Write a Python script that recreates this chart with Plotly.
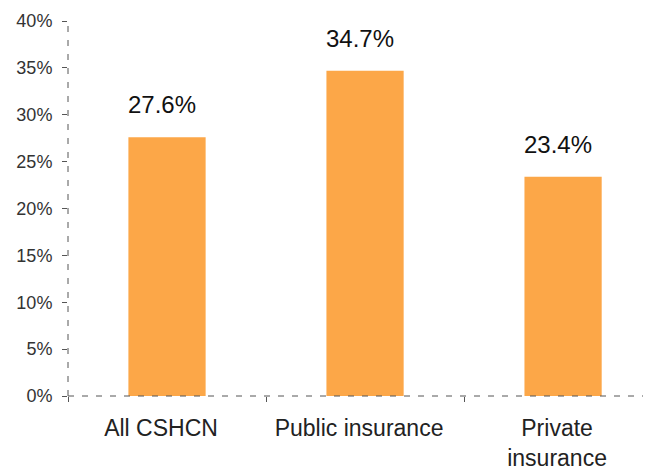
import plotly.graph_objects as go

categories = ["All CSHCN", "Public insurance", "Private<br>insurance"]
values = [27.6, 34.7, 23.4]
value_labels = ["27.6%", "34.7%", "23.4%"]
y_ticks = [0, 5, 10, 15, 20, 25, 30, 35, 40]

_BAR = "#FCA748"
_AXIS = "#555555"
_FONT = "Liberation Sans, Arial, sans-serif"

fig = go.Figure()
fig.add_trace(
    go.Bar(
        x=categories,
        y=values,
        width=0.39,
        marker=dict(color=_BAR, line=dict(width=0)),
        hoverinfo="skip",
    )
)

# value labels sit a little left of the bar centres in the original
for cat, val, txt in zip(categories, values, value_labels):
    fig.add_annotation(
        x=cat, y=val, text=txt, showarrow=False,
        yanchor="bottom", yshift=17, xshift=-5,
        font=dict(size=24, color="#111111", family=_FONT),
    )

# dashed axis lines (plotly axis lines can't be dashed)
fig.add_shape(type="line", xref="paper", yref="paper", x0=0, x1=0, y0=0, y1=1,
              line=dict(color=_AXIS, width=1, dash="6px,8px"))
fig.add_shape(type="line", xref="paper", yref="paper", x0=0, x1=1, y0=0, y1=0,
              line=dict(color=_AXIS, width=1, dash="6px,8px"))

# page body adds an 8px offset, so the figure is drawn 8px smaller/shifted
fig.update_layout(
    width=643,
    height=462,
    margin=dict(l=60, r=0, t=13, b=74),
    paper_bgcolor="white",
    plot_bgcolor="white",
    showlegend=False,
    font=dict(family=_FONT, color="#222222"),
)
fig.update_xaxes(
    type="category",
    range=[-0.5, 2.444],
    showline=False,
    showgrid=False,
    zeroline=False,
    ticks="outside",
    tickson="boundaries",
    ticklen=5,
    tickcolor=_AXIS,
    tickfont=dict(size=23, color="#222222"),
    ticklabelstandoff=16,
    ticklabelshift=-6,
)
fig.update_yaxes(
    range=[0, 40],
    tickvals=y_ticks,
    ticktext=[f"{v}%" for v in y_ticks],
    showline=False,
    showgrid=False,
    zeroline=False,
    ticks="outside",
    ticklen=5,
    tickcolor=_AXIS,
    tickfont=dict(size=18, color="#333333"),
    ticklabelstandoff=6,
)

fig.write_html("out.html")
